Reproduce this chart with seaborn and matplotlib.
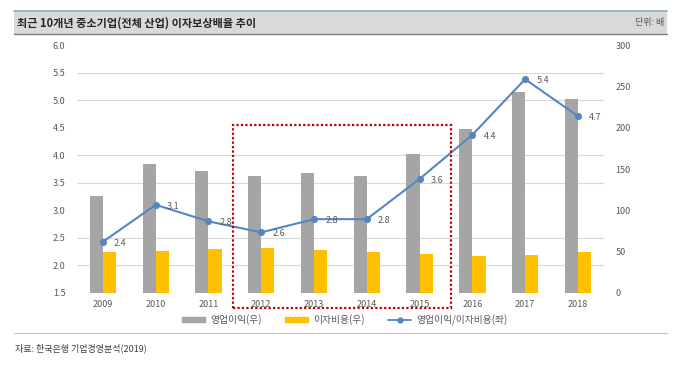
import numpy as np
import pandas as pd
import matplotlib
matplotlib.use('Agg')
import matplotlib.pyplot as plt
import matplotlib.patches as mpatches
from matplotlib.lines import Line2D
import seaborn as sns

# 데이터
years = ['2009', '2010', '2011', '2012', '2013', '2014', '2015', '2016', '2017', '2018']
op_profit = [117, 156, 148, 141, 145, 141, 168, 198, 243, 235]      # 영업이익(우)
int_expense = [50, 51, 53, 54, 52, 50, 47, 45, 46, 50]               # 이자비용(우)
icr = [2.43, 3.10, 2.80, 2.60, 2.84, 2.84, 3.57, 4.37, 5.38, 4.71]   # 영업이익/이자비용(좌)
left_ticks = [1.5, 2.0, 2.5, 3.0, 3.5, 4.0, 4.5, 5.0, 5.5, 6.0]
right_ticks = [0, 50, 100, 150, 200, 250, 300]

sns.set_style('white')
plt.rcParams['font.family'] = ['Noto Sans CJK KR', 'DejaVu Sans']

GRAY = '#a5a5a5'
YELLOW = '#ffc000'
BLUE = '#5586c0'
TXT = '#595959'

bars = pd.DataFrame({
    'year': years * 2,
    'value': op_profit + int_expense,
    'series': ['영업이익(우)'] * len(years) + ['이자비용(우)'] * len(years),
})

fig = plt.figure(figsize=(6.8, 3.69), dpi=100)
ax = fig.add_axes([0.1126, 0.206, 0.776, 0.672])

# 막대 (오른쪽 축)
sns.barplot(data=bars, x='year', y='value', hue='series',
            palette=[GRAY, YELLOW], width=0.5, gap=0, ax=ax,
            legend=False, saturation=1, errorbar=None, linewidth=0)
ax.set_ylim(0, 300)
ax.set_xlim(-0.5, len(years) - 0.5)
ax.set_xlabel('')
ax.set_ylabel('')

# 선 (왼쪽 축)
ax2 = ax.twinx()
sns.pointplot(x=years, y=icr, color=BLUE, markers='o', markersize=4,
              linewidth=1.5, ax=ax2, errorbar=None)

# twinx 이후에 눈금 위치 지정
ax.yaxis.tick_right()
ax.set_yticks(right_ticks)
ax.set_yticklabels([str(t) for t in right_ticks])
# 왼쪽 눈금에 맞춘 격자선
ax.set_yticks([(t - 1.5) / 4.5 * 300 for t in left_ticks], minor=True)
ax.grid(which='minor', axis='y', color='#d9d9d9', linewidth=0.8)
ax.grid(which='major', visible=False)
ax.set_axisbelow(True)
ax.tick_params(axis='both', which='both', length=0, labelsize=6.5, colors=TXT)
ax.tick_params(axis='x', pad=5)
ax.tick_params(axis='y', pad=8)
for s in ax.spines.values():
    s.set_visible(False)

ax2.set_ylim(1.5, 6.0)
ax2.set_xlim(-0.5, len(years) - 0.5)
ax2.yaxis.tick_left()
ax2.set_yticks(left_ticks)
ax2.set_yticklabels([f'{t:.1f}' for t in left_ticks])
ax2.tick_params(axis='y', length=0, labelsize=6.5, colors=TXT, pad=8)
ax2.set_ylabel('')
for s in ax2.spines.values():
    s.set_visible(False)
for i, v in enumerate(icr):
    ax2.annotate(f'{v:.1f}', (i, v), xytext=(8, -1), textcoords='offset points',
                 fontsize=6.5, color=TXT, va='center', ha='left')

# 빨간 점선 박스 (2012~2015)
rect = mpatches.Rectangle((233 / 680, 1 - 308 / 369), (451 - 233) / 680, (308 - 125) / 369,
                          transform=fig.transFigure, fill=False, edgecolor='#c00000',
                          linestyle=(0, (1, 1)), linewidth=1.6, zorder=10)
fig.patches.append(rect)

# 범례
handles = [
    mpatches.Patch(color=GRAY, label='영업이익(우)'),
    mpatches.Patch(color=YELLOW, label='이자비용(우)'),
    Line2D([0], [0], color=BLUE, marker='o', markersize=3.5, linewidth=1.3,
           label='영업이익/이자비용(좌)'),
]
leg = fig.legend(handles=handles, loc='center', bbox_to_anchor=(0.507, 1 - 320 / 369),
                 ncol=3, frameon=False, fontsize=7, handlelength=2.4, handleheight=0.35,
                 columnspacing=2.4, handletextpad=0.5)
for t in leg.get_texts():
    t.set_color(TXT)

# 제목 띠
fig.patches.append(mpatches.Rectangle((14 / 680, 1 - 34 / 369), (667 - 14) / 680, 23 / 369,
                                      transform=fig.transFigure, facecolor='#d9d9d9',
                                      edgecolor='none', zorder=0))
fig.add_artist(Line2D([14 / 680, 667 / 680], [1 - 11 / 369] * 2, color='#8eaabb', linewidth=1.2))
fig.add_artist(Line2D([14 / 680, 667 / 680], [1 - 34 / 369] * 2, color='#7f7f7f', linewidth=1.0))
fig.text(17 / 680, 1 - 23 / 369, '최근 10개년 중소기업(전체 산업) 이자보상배율 추이',
         fontsize=8, fontweight='bold', color='#262626', va='center', ha='left')
fig.text(664 / 680, 1 - 23 / 369, '단위: 배', fontsize=6.5, color=TXT, va='center', ha='right')

# 하단 구분선과 출처
fig.add_artist(Line2D([14 / 680, 667 / 680], [1 - 333 / 369] * 2, color='#bfbfbf', linewidth=0.8))
fig.text(15 / 680, 1 - 348 / 369, '자료: 한국은행 기업경영분석(2019)', fontsize=6.5,
         color='#404040', va='center', ha='left')

fig.savefig('out.png', dpi=100)
